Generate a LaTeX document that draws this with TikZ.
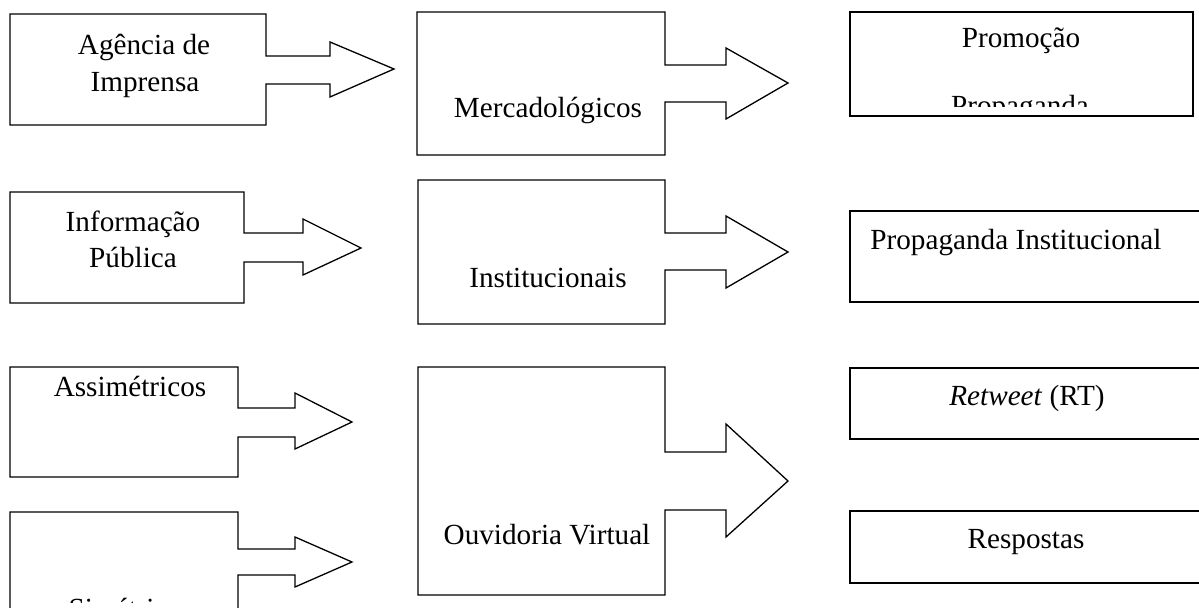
\documentclass[tikz,border=0pt]{standalone}
\usepackage{fontspec}
\setmainfont{Liberation Serif}
\begin{document}
\begin{tikzpicture}[x=0.5pt,y=-0.5pt,
  cbox/.style={draw=black,line width=0.65pt,line join=miter},
  rbox/.style={draw=black,line width=0.75pt},
  lbl/.style={inner sep=0pt,anchor=base,font=\fontsize{14.6pt}{17.5pt}\selectfont},
  lblw/.style={lbl,anchor=base west}]
\clip (0,0) rectangle (1199,608);
\fill[white] (0,0) rectangle (1199,608);

% Agência de Imprensa
\draw[cbox] (10,14) -- (266,14) -- (266,56) -- (330,56) -- (330,42) -- (394,69)
  -- (330,97) -- (330,84) -- (266,84) -- (266,125) -- (10,125) -- cycle;
\node[lbl] (ag1) at (144,55) {Agência de};
\node[lbl] (ag2) at (145,92) {Imprensa};

% Mercadológicos
\draw[cbox] (417,12) -- (665,12) -- (665,65) -- (726,65) -- (726,48) -- (788,83)
  -- (726,119) -- (726,102) -- (665,102) -- (665,155) -- (417,155) -- cycle;
\node[lbl] (merc) at (548,118) {Mercadológicos};

% Promoção / Propaganda
\draw[rbox] (850,12) rectangle (1193,116);
\begin{scope}
\clip (850,12) rectangle (1193,107);
\node[lbl] (prom) at (1021,48) {Promoção};
\node[lbl] (prop) at (1020,116) {Propaganda};
\end{scope}

% Informação Pública
\draw[cbox] (10,192) -- (244,192) -- (244,233) -- (303,233) -- (303,219) -- (361,248)
  -- (303,275) -- (303,262) -- (244,262) -- (244,303) -- (10,303) -- cycle;
\node[lbl] (inf1) at (133,232) {Informação};
\node[lbl] (inf2) at (133,268) {Pública};

% Institucionais
\draw[cbox] (418,180) -- (665,180) -- (665,233) -- (726,233) -- (726,216) -- (788,252)
  -- (726,288) -- (726,270) -- (665,270) -- (665,324) -- (418,324) -- cycle;
\node[lbl] (inst) at (548,288) {Institucionais};

% Propaganda Institucional
\draw[rbox] (1215,211) -- (850,211) -- (850,302) -- (1215,302);
\node[lblw] (propinst) at (870,250) {Propaganda Institucional};

% Assimétricos
\draw[cbox] (10,367) -- (238,367) -- (238,408) -- (295,408) -- (295,393) -- (352,422)
  -- (295,449) -- (295,437) -- (238,437) -- (238,477) -- (10,477) -- cycle;
\node[lbl] (assim) at (130,397) {Assimétricos};

% Simétricos
\draw[cbox] (10,640) -- (10,512) -- (238,512) -- (238,549) -- (295,549) -- (295,537) -- (352,562)
  -- (295,587) -- (295,575) -- (238,575) -- (238,640);
\begin{scope}
\clip (10,512) rectangle (238,602);
\node[lbl] (sim) at (131,618) {Simétricos};
\end{scope}

% Ouvidoria Virtual
\draw[cbox] (418,367) -- (665,367) -- (665,452) -- (726,452) -- (726,424) -- (788,481)
  -- (726,537) -- (726,510) -- (665,510) -- (665,595) -- (418,595) -- cycle;
\node[lbl] (ouv) at (547,545) {Ouvidoria Virtual};

% Retweet (RT)
\draw[rbox] (1215,368) -- (850,368) -- (850,439) -- (1215,439);
\node[lbl] (rt) at (1027,406) {\textit{Retweet} (RT)};

% Respostas
\draw[rbox] (1215,511) -- (850,511) -- (850,583) -- (1215,583);
\node[lbl] (resp) at (1026,549) {Respostas};
\end{tikzpicture}
\end{document}
